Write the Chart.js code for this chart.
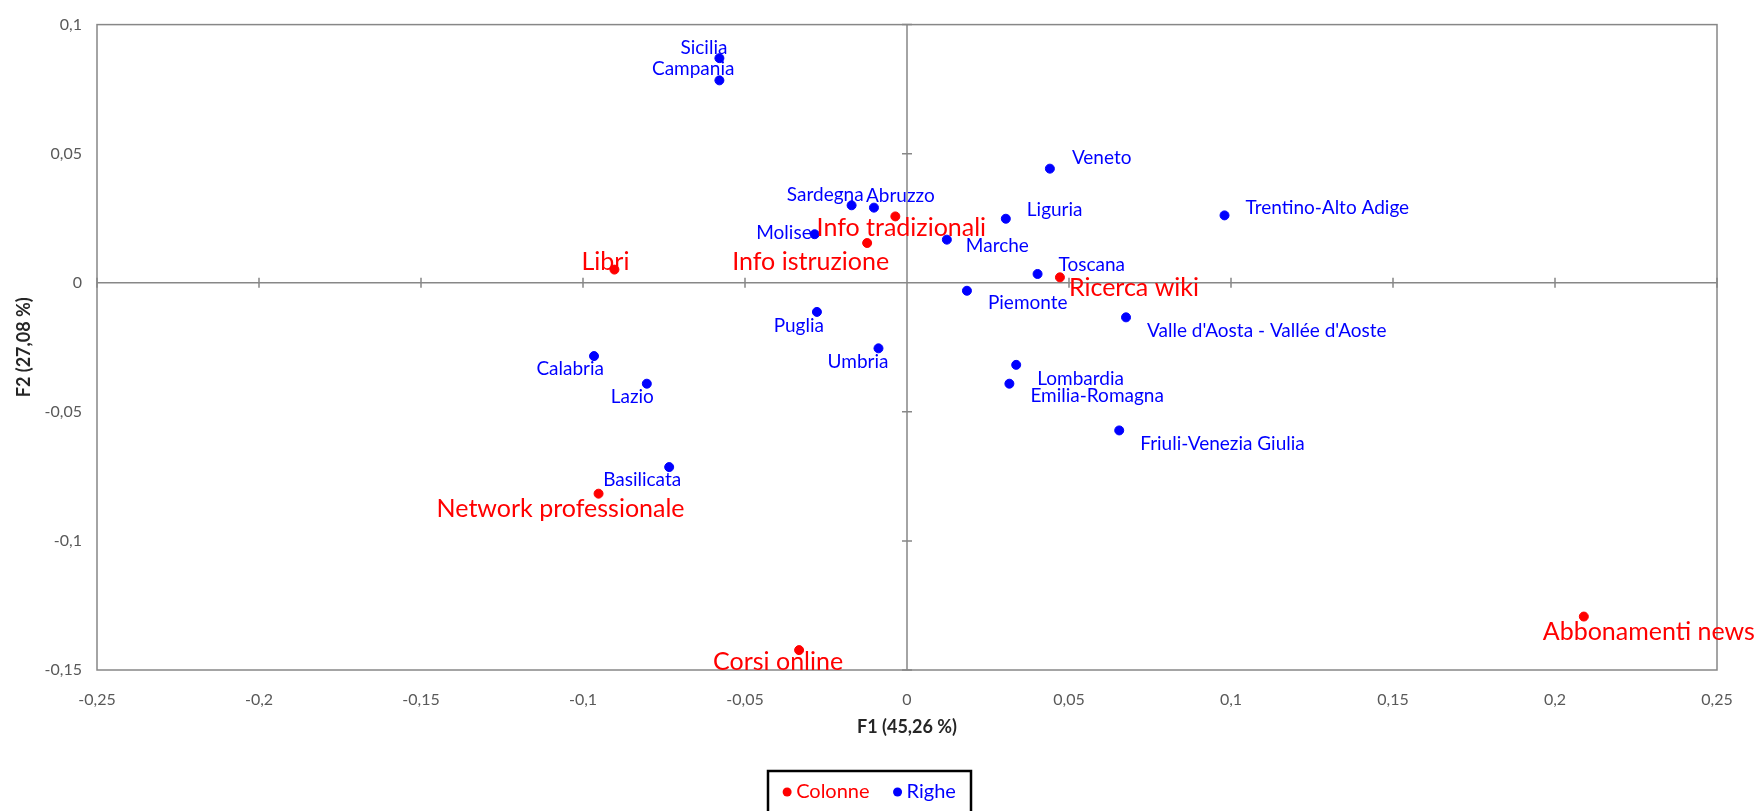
<!DOCTYPE html>
<html>
<head>
<meta charset="utf-8">
<title>Analisi delle corrispondenze</title>
<script src="https://cdn.jsdelivr.net/npm/chart.js@4.4.0/dist/chart.umd.min.js"></script>
<style>
  html, body { margin: 0; padding: 0; background: #ffffff; }
  #wrap { position: relative; width: 1755px; height: 811px; }
</style>
</head>
<body>
<div id="wrap"><canvas id="chart"></canvas></div>
<script>
/* Colonne: coordinate sui fattori F1 e F2. */
const colNames = ["Libri", "Info tradizionali", "Info istruzione", "Ricerca wiki", "Network professionale", "Corsi online", "Abbonamenti news"]
const colF1 = [-0.0903, -0.0036, -0.0123, 0.0472, -0.0952, -0.0333, 0.2089]
const colF2 = [0.0051, 0.0257, 0.0154, 0.0021, -0.0817, -0.1423, -0.1293]

/* Righe: coordinate delle regioni. */
const rowNames = ["Sicilia", "Campania", "Veneto", "Sardegna", "Abruzzo", "Liguria", "Trentino-Alto Adige", "Molise", "Marche", "Toscana",
  "Piemonte", "Puglia", "Valle d'Aosta - Vallée d'Aoste", "Umbria", "Calabria", "Lombardia", "Emilia-Romagna", "Lazio", "Friuli-Venezia Giulia", "Basilicata"]
const rowF1 = [-0.0579, -0.0579, 0.0441, -0.0171, -0.0102, 0.0305, 0.0980, -0.0285, 0.0123, 0.0403,
  0.0185, -0.0278, 0.0676, -0.0088, -0.0966, 0.0337, 0.0316, -0.0803, 0.0655, -0.0734]
const rowF2 = [0.0870, 0.0784, 0.0442, 0.0300, 0.0291, 0.0248, 0.0261, 0.0188, 0.0167, 0.0034,
  -0.0031, -0.0113, -0.0134, -0.0254, -0.0284, -0.0318, -0.0391, -0.0391, -0.0572, -0.0714]

/* Assi. */
const xMin = -0.25
const xMax = 0.25
const yMin = -0.15
const yMax = 0.1
const tickStep = 0.05
const xTitle = "F1 (45,26 %)"
const yTitle = "F2 (27,08 %)"

/* Where each label sits next to its point: [align, dx, dy]. */
const labelPlace = {
  "Sicilia": ["right", 8, -10],
  "Campania": ["right", 15, -11],
  "Veneto": ["left", 22, -11],
  "Sardegna": ["right", 12, -10],
  "Abruzzo": ["left", -8, -12],
  "Liguria": ["left", 21, -9],
  "Trentino-Alto Adige": ["left", 21, -8],
  "Molise": ["right", -3, -1],
  "Marche": ["left", 19, 6],
  "Toscana": ["left", 21, -9],
  "Piemonte": ["left", 21, 12],
  "Puglia": ["right", 7, 14],
  "Valle d'Aosta - Vallée d'Aoste": ["left", 21, 14],
  "Umbria": ["right", 10, 14],
  "Calabria": ["right", 10, 13],
  "Lombardia": ["left", 21, 14],
  "Emilia-Romagna": ["left", 21, 12],
  "Lazio": ["right", 7, 13],
  "Friuli-Venezia Giulia": ["left", 21, 13],
  "Basilicata": ["right", 12, 13],
  "Libri": ["center", -9, -8],
  "Info tradizionali": ["center", 6, 12],
  "Info istruzione": ["right", 22, 19],
  "Ricerca wiki": ["left", 9, 11],
  "Network professionale": ["center", -38, 15],
  "Corsi online": ["center", -21, 12],
  "Abbonamenti news": ["center", 65, 15]
}

const RED = "#ff0000"
const BLUE = "#0000ff"
const GREY = "#878787"
const FONT = "Lato, 'Open Sans', sans-serif"

const toPoints = (xs, ys, names) => xs.map((x, i) => ({ x, y: ys[i], name: names[i] }))

const formatTick = value => String(Math.round(value * 100) / 100).replace(".", ",")

/* Frame, axes through zero with small cross ticks. */
const framePlugin = {
  id: "frame",
  beforeDatasetsDraw: chart => {
    const ctx = chart.ctx
    const area = chart.chartArea
    const xs = chart.scales.x
    const ys = chart.scales.y
    const x0 = xs.getPixelForValue(0)
    const y0 = ys.getPixelForValue(0)
    ctx.save()
    ctx.strokeStyle = GREY
    ctx.lineWidth = 1.5
    ctx.strokeRect(area.left, area.top, area.right - area.left, area.bottom - area.top)
    ctx.beginPath()
    ctx.moveTo(area.left, y0)
    ctx.lineTo(area.right, y0)
    ctx.moveTo(x0, area.top)
    ctx.lineTo(x0, area.bottom)
    xs.ticks.forEach(t => {
      const px = xs.getPixelForValue(t.value)
      ctx.moveTo(px, y0 - 5)
      ctx.lineTo(px, y0 + 5)
    })
    ys.ticks.forEach(t => {
      const py = ys.getPixelForValue(t.value)
      ctx.moveTo(x0 - 5, py)
      ctx.lineTo(x0 + 5, py)
    })
    ctx.stroke()
    ctx.restore()
  }
}

/* Point labels and the boxed legend. */
const labelPlugin = {
  id: "pointLabels",
  afterDatasetsDraw: chart => {
    const ctx = chart.ctx
    ctx.save()
    ctx.textBaseline = "middle"
    chart.data.datasets.forEach((ds, di) => {
      const meta = chart.getDatasetMeta(di)
      ctx.fillStyle = ds.labelColor
      ctx.font = ds.labelFont
      meta.data.forEach((el, i) => {
        const name = ds.data[i].name
        const place = labelPlace[name] || ["left", 8, 0]
        ctx.textAlign = place[0]
        ctx.fillText(name, el.x + place[1], el.y + place[2])
      })
    })
    ctx.restore()
  },
  afterDraw: chart => {
    const ctx = chart.ctx
    const items = chart.data.datasets.map(ds => ({ text: ds.label, color: ds.backgroundColor }))
    ctx.save()
    ctx.font = "20px " + FONT
    ctx.textBaseline = "middle"
    const dotGap = 13
    const itemGap = 24
    let total = 0
    items.forEach((it, i) => {
      it.w = ctx.measureText(it.text).width
      total += dotGap + it.w + (i < items.length - 1 ? itemGap : 0)
    })
    const boxW = 203
    const boxLeft = 768
    const boxTop = 771
    const cy = 792
    ctx.strokeStyle = "#000000"
    ctx.lineWidth = 2.5
    ctx.strokeRect(boxLeft, boxTop, boxW, 60)
    let x = boxLeft + (boxW - total) / 2
    items.forEach(it => {
      ctx.fillStyle = it.color
      ctx.beginPath()
      ctx.arc(x + 4, cy, 4.5, 0, Math.PI * 2)
      ctx.fill()
      ctx.textAlign = "left"
      ctx.fillText(it.text, x + dotGap, cy)
      x += dotGap + it.w + itemGap
    })
    ctx.restore()
  }
}

const ctx = document.getElementById("chart").getContext("2d")
const chart = new Chart(ctx, {
  type: "scatter",
  data: {
    datasets: [{
      label: "Colonne",
      data: toPoints(colF1, colF2, colNames),
      backgroundColor: RED,
      borderColor: RED,
      pointRadius: 4.5,
      pointHoverRadius: 4.5,
      labelColor: RED,
      labelFont: "25px " + FONT,
      clip: false
    }, {
      label: "Righe",
      data: toPoints(rowF1, rowF2, rowNames),
      backgroundColor: BLUE,
      borderColor: BLUE,
      pointRadius: 4.5,
      pointHoverRadius: 4.5,
      labelColor: BLUE,
      labelFont: "19px " + FONT,
      clip: false
    }]
  },
  options: {
    responsive: true,
    maintainAspectRatio: false,
    animation: false,
    layout: {
      padding: { top: 19, right: 38, bottom: 60, left: 0 }
    },
    plugins: {
      legend: { display: false },
      tooltip: { enabled: false }
    },
    scales: {
      x: {
        type: "linear",
        min: xMin,
        max: xMax,
        afterFit: scale => { scale.height = 81 },
        border: { display: false },
        grid: { display: false, drawTicks: false },
        ticks: {
          stepSize: tickStep,
          padding: 20,
          color: "#595959",
          font: { family: FONT, size: 16 },
          callback: formatTick
        },
        title: {
          display: true,
          text: xTitle,
          color: "#262626",
          font: { family: FONT, size: 18, weight: "bold" },
          padding: { top: 0, bottom: 13 }
        }
      },
      y: {
        type: "linear",
        min: yMin,
        max: yMax,
        afterFit: scale => { scale.width = 97 },
        border: { display: false },
        grid: { display: false, drawTicks: false },
        ticks: {
          stepSize: tickStep,
          padding: 15,
          color: "#595959",
          font: { family: FONT, size: 16 },
          callback: formatTick
        },
        title: {
          display: true,
          text: yTitle,
          color: "#262626",
          font: { family: FONT, size: 18, weight: "bold" },
          padding: { top: 13, bottom: 0 }
        }
      }
    }
  },
  plugins: [framePlugin, labelPlugin]
})
</script>
</body>
</html>
